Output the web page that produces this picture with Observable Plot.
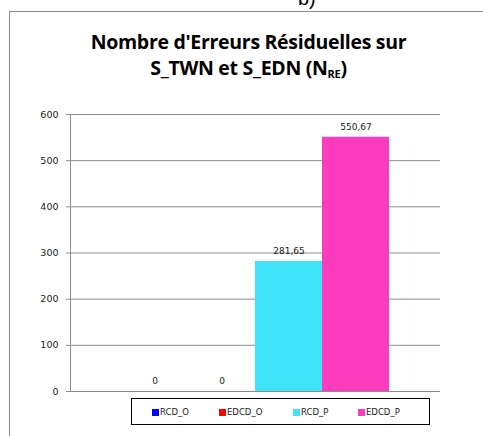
<!DOCTYPE html>
<html>
<head>
<meta charset="utf-8">
<script src="https://cdn.jsdelivr.net/npm/d3@7"></script>
<script src="https://cdn.jsdelivr.net/npm/@observablehq/plot@0.6"></script>
<style>
  html, body { margin: 0; padding: 0; background: #fff; }
  #wrap { position: relative; width: 483px; height: 436px; overflow: hidden; font-family: "DejaVu Sans", sans-serif; }
  #frame { position: absolute; left: 9px; top: 11px; width: 500px; height: 450px; border: 1px solid #8c8c8c; box-sizing: border-box; }
  #topb { position: absolute; left: 298px; top: -13px; font-size: 20px; color: #000; font-family: "Liberation Sans", sans-serif; }
  #title { position: absolute; left: 0; width: 497px; top: 29px; text-align: center; font-family: "Open Sans", sans-serif; font-weight: bold; font-size: 19.5px; line-height: 26px; color: #000; letter-spacing: -0.3px; }
  #title sub { font-size: 11px; vertical-align: -3px; }
  #chart { position: absolute; left: 0; top: 0; }
  #legend { position: absolute; left: 131px; top: 398px; width: 299px; height: 27px; border: 1px solid #000; box-sizing: border-box; font-size: 8.5px; color: #222; }
  .item { position: absolute; top: 8px; display: flex; align-items: center; }
  .sw { width: 7px; height: 7px; margin-right: 1px; }
</style>
</head>
<body>
<div id="wrap">
  <div id="topb">b)</div>
  <div id="frame"></div>
  <div id="title">Nombre d'Erreurs Résiduelles sur<br>S_TWN et S_EDN (N<sub>RE</sub>)</div>
  <div id="chart"></div>
  <div id="legend"></div>
</div>
<script>
const categories = ["RCD_O", "EDCD_O", "RCD_P", "EDCD_P"];
const values = [0, 0, 281.65, 550.67];
const labels = ["0", "0", "281,65", "550,67"];
const colors = ["#0000ff", "#ff0000", "#3fe4fa", "#fc3cbf"];
const yTicks = [0, 100, 200, 300, 400, 500, 600];

const data = categories.map((c, i) => ({cat: c, value: values[i], label: labels[i]}));

const plot = Plot.plot({
  width: 483,
  height: 436,
  marginLeft: 70,
  marginRight: 43,
  marginTop: 114,
  marginBottom: 45,
  style: {fontFamily: "'DejaVu Sans', sans-serif", fontSize: "9px", color: "#222", background: "transparent"},
  x: {domain: categories, paddingInner: 0, paddingOuter: 0.76, axis: null},
  y: {domain: [0, 600], ticks: yTicks, label: null},
  color: {domain: categories, range: colors},
  marks: [
    Plot.gridY(yTicks, {stroke: "#8c8c8c", strokeOpacity: 1}),
    Plot.frame({anchor: "left", stroke: "#8c8c8c"}),
    Plot.barY(data, {x: "cat", y: "value", fill: "cat"}),
    Plot.axisY(yTicks, {tickSize: 4, tickPadding: 8, stroke: "#8c8c8c", tickFormat: d => String(d), fill: "#222", fontSize: 9.5}),
    Plot.text(data, {x: "cat", y: "value", text: "label", dy: -10, fill: "#222", fontSize: 9})
  ]
});
document.getElementById("chart").appendChild(plot);

const legend = document.getElementById("legend");
const lx = [20, 87, 161, 226];
categories.forEach((c, i) => {
  const it = document.createElement("div");
  it.className = "item";
  it.style.left = lx[i] + "px";
  it.innerHTML = `<span class="sw" style="background:${colors[i]}"></span><span>${c}</span>`;
  legend.appendChild(it);
});
</script>
</body>
</html>
